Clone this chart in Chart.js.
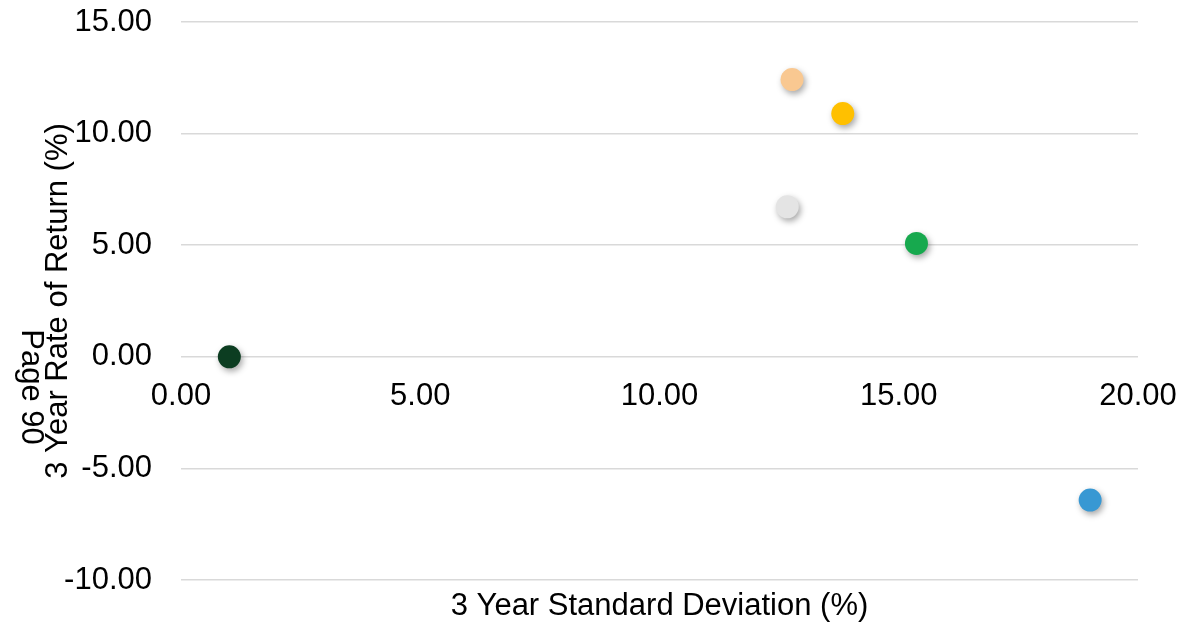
<!DOCTYPE html>
<html>
<head>
<meta charset="utf-8">
<script src="https://cdn.jsdelivr.net/npm/chart.js@4.4.1/dist/chart.umd.min.js"></script>
<style>
  html, body { margin: 0; padding: 0; background: #fff; }
  #wrap { width: 1183px; height: 624px; position: relative; }
</style>
</head>
<body>
<div id="wrap"><canvas id="chart"></canvas></div>
<script>
// values
const stdDev = [1.01, 12.77, 13.83, 12.67, 15.37, 19.0];
const rateOfReturn = [0.0, 12.42, 10.90, 6.72, 5.08, -6.42];
const dotColors = ['#0c3d21', '#f9c891', '#ffc000', '#e4e4e4', '#17a94e', '#3898d3'];

const xTitle = '3 Year Standard Deviation (%)';
const yTitle = '3 Year Rate of Return (%)';
const pageNote = 'Page 90';

const FONT = '"Liberation Sans", Arial, sans-serif';
const FSIZE = 31;

const points = stdDev.map((x, i) => ({ x: x, y: rateOfReturn[i] }));

function noPad(scale) {
  scale.paddingTop = 0;
  scale.paddingBottom = 0;
  scale.paddingLeft = 0;
  scale.paddingRight = 0;
}

// soft drop shadow under the dots
const dotShadow = {
  id: 'dotShadow',
  beforeDatasetsDraw(chart) {
    const ctx = chart.ctx;
    ctx.save();
    ctx.shadowColor = 'rgba(0,0,0,0.35)';
    ctx.shadowBlur = 6;
    ctx.shadowOffsetX = 2;
    ctx.shadowOffsetY = 3;
  },
  afterDatasetsDraw(chart) {
    chart.ctx.restore();
  }
};

// x axis title sits at the bottom, the page note is turned the other way
const extraText = {
  id: 'extraText',
  afterDraw(chart) {
    const ctx = chart.ctx;
    const area = chart.chartArea;
    ctx.save();
    ctx.fillStyle = '#000';
    ctx.font = FSIZE + 'px ' + FONT;
    ctx.textAlign = 'center';
    ctx.textBaseline = 'middle';
    ctx.fillText(xTitle, (area.left + area.right) / 2, 606);

    ctx.translate(31, 387);
    ctx.rotate(Math.PI / 2);
    ctx.fillText(pageNote, 0, 0);
    ctx.restore();
  }
};

new Chart(document.getElementById('chart'), {
  type: 'scatter',
  data: {
    datasets: [{
      data: points,
      backgroundColor: dotColors,
      borderWidth: 0,
      pointRadius: 11.5,
      pointHoverRadius: 11.5
    }]
  },
  options: {
    responsive: true,
    maintainAspectRatio: false,
    animation: false,
    layout: { padding: { top: 22, right: 45, bottom: 44, left: 0 } },
    plugins: {
      legend: { display: false },
      tooltip: { enabled: false }
    },
    scales: {
      x: {
        type: 'linear',
        position: { y: 0 },
        min: 0,
        max: 20,
        afterFit: noPad,
        grid: { display: false, drawTicks: false },
        border: { display: false },
        ticks: {
          stepSize: 5,
          padding: 21,
          color: '#000',
          font: { family: FONT, size: FSIZE },
          callback: v => v.toFixed(2)
        }
      },
      y: {
        type: 'linear',
        min: -10,
        max: 15,
        afterFit(scale) { scale.width = 181; noPad(scale); },
        grid: { color: '#d9d9d9', lineWidth: 1.5, drawTicks: false },
        border: { display: false },
        ticks: {
          stepSize: 5,
          padding: 29,
          color: '#000',
          font: { family: FONT, size: FSIZE },
          callback: v => v.toFixed(2)
        },
        title: {
          display: true,
          text: yTitle,
          color: '#000',
          font: { family: FONT, size: FSIZE },
          padding: { top: 40, bottom: 0 }
        }
      }
    }
  },
  plugins: [dotShadow, extraText]
});
</script>
</body>
</html>
